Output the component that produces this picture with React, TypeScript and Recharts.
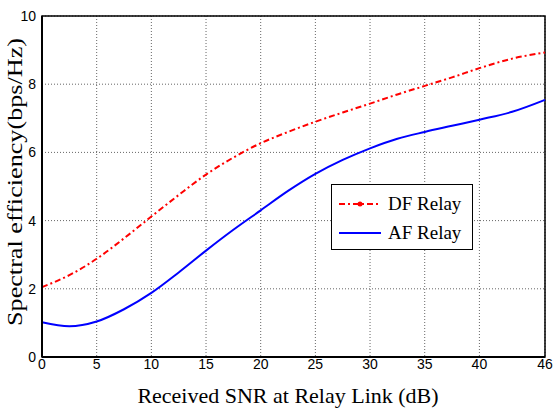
import React from 'react';
import {
    LineChart,
    Line,
    XAxis,
    YAxis,
    CartesianGrid,
    ReferenceArea,
    Label
} from 'recharts';

// received SNR at relay link (dB)
const snr = [0, 2.5, 5, 7.5, 10, 12.5, 15, 17.5, 20, 22.5, 25, 27.5, 30, 32.5, 35, 37.5, 40, 43, 46];
const dfRelay = [2.05, 2.4, 2.88, 3.48, 4.12, 4.75, 5.35, 5.85, 6.27, 6.6, 6.9, 7.17, 7.43, 7.7, 7.95, 8.2, 8.47, 8.75, 8.93];
const afRelay = [1.02, 0.9, 1.04, 1.4, 1.88, 2.48, 3.12, 3.73, 4.3, 4.87, 5.37, 5.78, 6.12, 6.4, 6.6, 6.78, 6.96, 7.19, 7.54];

const xTicks = [0, 5, 10, 15, 20, 25, 30, 35, 40, 46];
const yTicks = [0, 2, 4, 6, 8, 10];

const seriesNames = ['DF Relay', 'AF Relay'];
const xTitle = 'Received SNR at Relay Link (dB)';
const yTitle = 'Spectral efficiency(bps/Hz)';

const SANS = '"Liberation Sans", Arial, sans-serif';
const SERIF = '"Liberation Serif", "Times New Roman", serif';

const chartData = snr.map((x, i) => ({ snr: x, df: dfRelay[i], af: afRelay[i] }));

function LegendBox() {
    return (
        <div style={{
            position: 'absolute',
            left: 331,
            top: 184,
            width: 142,
            height: 66,
            border: '1.5px solid #000',
            background: '#fff',
            fontFamily: SERIF,
            fontSize: 19,
            color: '#000',
            boxSizing: 'border-box',
            paddingTop: 4
        }}>
            <div style={{ display: 'flex', alignItems: 'center', height: 29 }}>
                <svg width={50} height={12} style={{ marginLeft: 6 }}>
                    <line x1={1} y1={6} x2={43} y2={6} stroke="#ff0000" strokeWidth={2} strokeDasharray="6 3 2 3" />
                    <circle cx={22} cy={6} r={2.5} fill="#ff0000" />
                </svg>
                <span>{seriesNames[0]}</span>
            </div>
            <div style={{ display: 'flex', alignItems: 'center', height: 29 }}>
                <svg width={50} height={12} style={{ marginLeft: 6 }}>
                    <line x1={1} y1={6} x2={43} y2={6} stroke="#0000ff" strokeWidth={2} />
                </svg>
                <span>{seriesNames[1]}</span>
            </div>
        </div>
    );
}

export default function App() {
    return (
        <div style={{ position: 'absolute', left: 0, top: 0, width: 553, height: 411, background: '#fff' }}>
            <LineChart
                width={553}
                height={411}
                data={chartData}
                margin={{ top: 16, right: 8, left: 0, bottom: 0 }}
            >
                <CartesianGrid stroke="#666" strokeDasharray="1 2" />
                <XAxis
                    dataKey="snr"
                    type="number"
                    domain={[0, 46]}
                    ticks={xTicks}
                    interval={0}
                    height={54}
                    axisLine={{ stroke: '#000', strokeWidth: 2 }}
                    tickLine={false}
                    tickSize={0}
                    tickMargin={2}
                    tick={{ fill: '#000', fontSize: 14, fontFamily: SANS }}
                >
                    <Label
                        content={() => (
                            <text x={288} y={403} textAnchor="middle" fontFamily={SERIF} fontSize={22} fill="#000">
                                {xTitle}
                            </text>
                        )}
                    />
                </XAxis>
                <YAxis
                    type="number"
                    domain={[0, 10]}
                    ticks={yTicks}
                    interval={0}
                    width={42}
                    axisLine={{ stroke: '#000', strokeWidth: 2 }}
                    tickLine={false}
                    tickSize={0}
                    tickMargin={6}
                    tick={{ fill: '#000', fontSize: 14, fontFamily: SANS }}
                >
                    <Label
                        content={() => (
                            <text
                                x={22}
                                y={182}
                                textAnchor="middle"
                                transform="rotate(-90 22 182)"
                                fontFamily={SERIF}
                                fontSize={21}
                                textLength={288}
                                lengthAdjust="spacingAndGlyphs"
                                fill="#000"
                            >
                                {yTitle}
                            </text>
                        )}
                    />
                </YAxis>
                <ReferenceArea x1={0} x2={46} y1={0} y2={10} fill="none" stroke="#000" strokeWidth={1.5} ifOverflow="visible" />
                <Line
                    type="monotone"
                    dataKey="df"
                    name={seriesNames[0]}
                    stroke="#ff0000"
                    strokeWidth={2}
                    strokeDasharray="6 3 2 3"
                    dot={false}
                    isAnimationActive={false}
                />
                <Line
                    type="monotone"
                    dataKey="af"
                    name={seriesNames[1]}
                    stroke="#0000ff"
                    strokeWidth={2}
                    dot={false}
                    isAnimationActive={false}
                />
            </LineChart>
            <LegendBox />
        </div>
    );
}
